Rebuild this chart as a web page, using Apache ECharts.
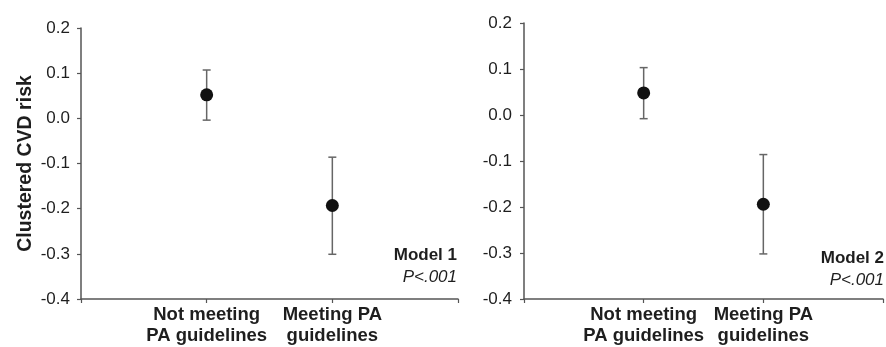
<!DOCTYPE html>
<html>
<head>
<meta charset="utf-8">
<script src="https://cdn.jsdelivr.net/npm/echarts@6/dist/echarts.min.js"></script>
<style>
  html, body { margin: 0; padding: 0; background: #fff; }
  #chart { width: 886px; height: 347px; }
</style>
</head>
<body>
<div id="chart"></div>
<script>
// groups shown on the x axis
var groupLabels = ['Not meeting\nPA guidelines', 'Meeting PA\nguidelines'];
// padded so the two groups sit at 1/3 and 2/3 of the axis
var categories = [''].concat(groupLabels, ['']);
var yTicks = [-0.4, -0.3, -0.2, -0.1, 0.0, 0.1, 0.2];

// Model 1
var model1Mean = [0.052, -0.193];
var model1Low = [-0.004, -0.301];
var model1High = [0.107, -0.086];

// Model 2
var model2Mean = [0.048, -0.194];
var model2Low = [-0.008, -0.302];
var model2High = [0.103, -0.086];

var textColor = '#1e1e1e';
var lineColor = '#555';
var font = 'Liberation Sans, Arial, sans-serif';

function pointData(mean) {
  return mean.map(function (v, i) { return [groupLabels[i], v]; });
}
function barData(low, high) {
  return low.map(function (v, i) { return [groupLabels[i], v, high[i]]; });
}

function renderErrorBar(params, api) {
  var x = api.value(0);
  var lo = api.coord([x, api.value(1)]);
  var hi = api.coord([x, api.value(2)]);
  var cap = 4;
  var style = { stroke: '#666', lineWidth: 1.5 };
  return {
    type: 'group',
    children: [
      { type: 'line', shape: { x1: lo[0], y1: lo[1], x2: hi[0], y2: hi[1] }, style: style },
      { type: 'line', shape: { x1: lo[0] - cap, y1: lo[1], x2: lo[0] + cap, y2: lo[1] }, style: style },
      { type: 'line', shape: { x1: hi[0] - cap, y1: hi[1], x2: hi[0] + cap, y2: hi[1] }, style: style }
    ]
  };
}

function xAxis(gridIndex) {
  return {
    type: 'category',
    gridIndex: gridIndex,
    data: categories,
    boundaryGap: false,
    axisLine: { onZero: false, lineStyle: { color: lineColor, width: 1.5 } },
    axisTick: { length: 4, lineStyle: { color: lineColor, width: 1.2 } },
    axisLabel: {
      color: textColor, fontFamily: font, fontSize: 18.5, fontWeight: 'bold',
      lineHeight: 21.5, margin: 5, interval: 0
    },
    splitLine: { show: false }
  };
}

function yAxis(gridIndex, withName, margin) {
  return {
    type: 'value',
    gridIndex: gridIndex,
    min: yTicks[0],
    max: yTicks[yTicks.length - 1],
    interval: 0.1,
    name: withName ? 'Clustered CVD risk' : '',
    nameLocation: 'middle',
    nameGap: 45,
    nameTextStyle: { color: textColor, fontFamily: font, fontSize: 19.5, fontWeight: 'bold' },
    axisLine: { show: true, lineStyle: { color: lineColor, width: 1.5 } },
    axisTick: { show: true, length: 4, lineStyle: { color: lineColor, width: 1.2 } },
    axisLabel: {
      color: textColor, fontFamily: font, fontSize: 17, margin: margin,
      formatter: function (v) { return v.toFixed(1); }
    },
    splitLine: { show: false }
  };
}

var chart = echarts.init(document.getElementById('chart'));
chart.setOption({
  backgroundColor: '#fff',
  animation: false,
  grid: [
    { left: 81, top: 28, width: 377, height: 273 },
    { left: 524, top: 23, width: 362, height: 278 }
  ],
  xAxis: [xAxis(0), xAxis(1)],
  yAxis: [yAxis(0, true, 11), yAxis(1, false, 12)],
  graphic: [
    { type: 'text', right: 429, top: 247, style: { text: 'Model 1', font: 'bold 17px ' + font, fill: textColor, textAlign: 'right' } },
    { type: 'text', right: 429, top: 269, style: { text: 'P<.001', font: 'italic 17px ' + font, fill: textColor, textAlign: 'right' } },
    { type: 'text', right: 2, top: 250, style: { text: 'Model 2', font: 'bold 17px ' + font, fill: textColor, textAlign: 'right' } },
    { type: 'text', right: 2, top: 272, style: { text: 'P<.001', font: 'italic 17px ' + font, fill: textColor, textAlign: 'right' } }
  ],
  series: [
    {
      type: 'custom', xAxisIndex: 0, yAxisIndex: 0,
      renderItem: renderErrorBar, data: barData(model1Low, model1High), z: 1
    },
    {
      type: 'scatter', xAxisIndex: 0, yAxisIndex: 0, symbolSize: 13,
      itemStyle: { color: '#111', opacity: 1 }, data: pointData(model1Mean), z: 2
    },
    {
      type: 'custom', xAxisIndex: 1, yAxisIndex: 1,
      renderItem: renderErrorBar, data: barData(model2Low, model2High), z: 1
    },
    {
      type: 'scatter', xAxisIndex: 1, yAxisIndex: 1, symbolSize: 13,
      itemStyle: { color: '#111', opacity: 1 }, data: pointData(model2Mean), z: 2
    }
  ]
});
</script>
</body>
</html>
